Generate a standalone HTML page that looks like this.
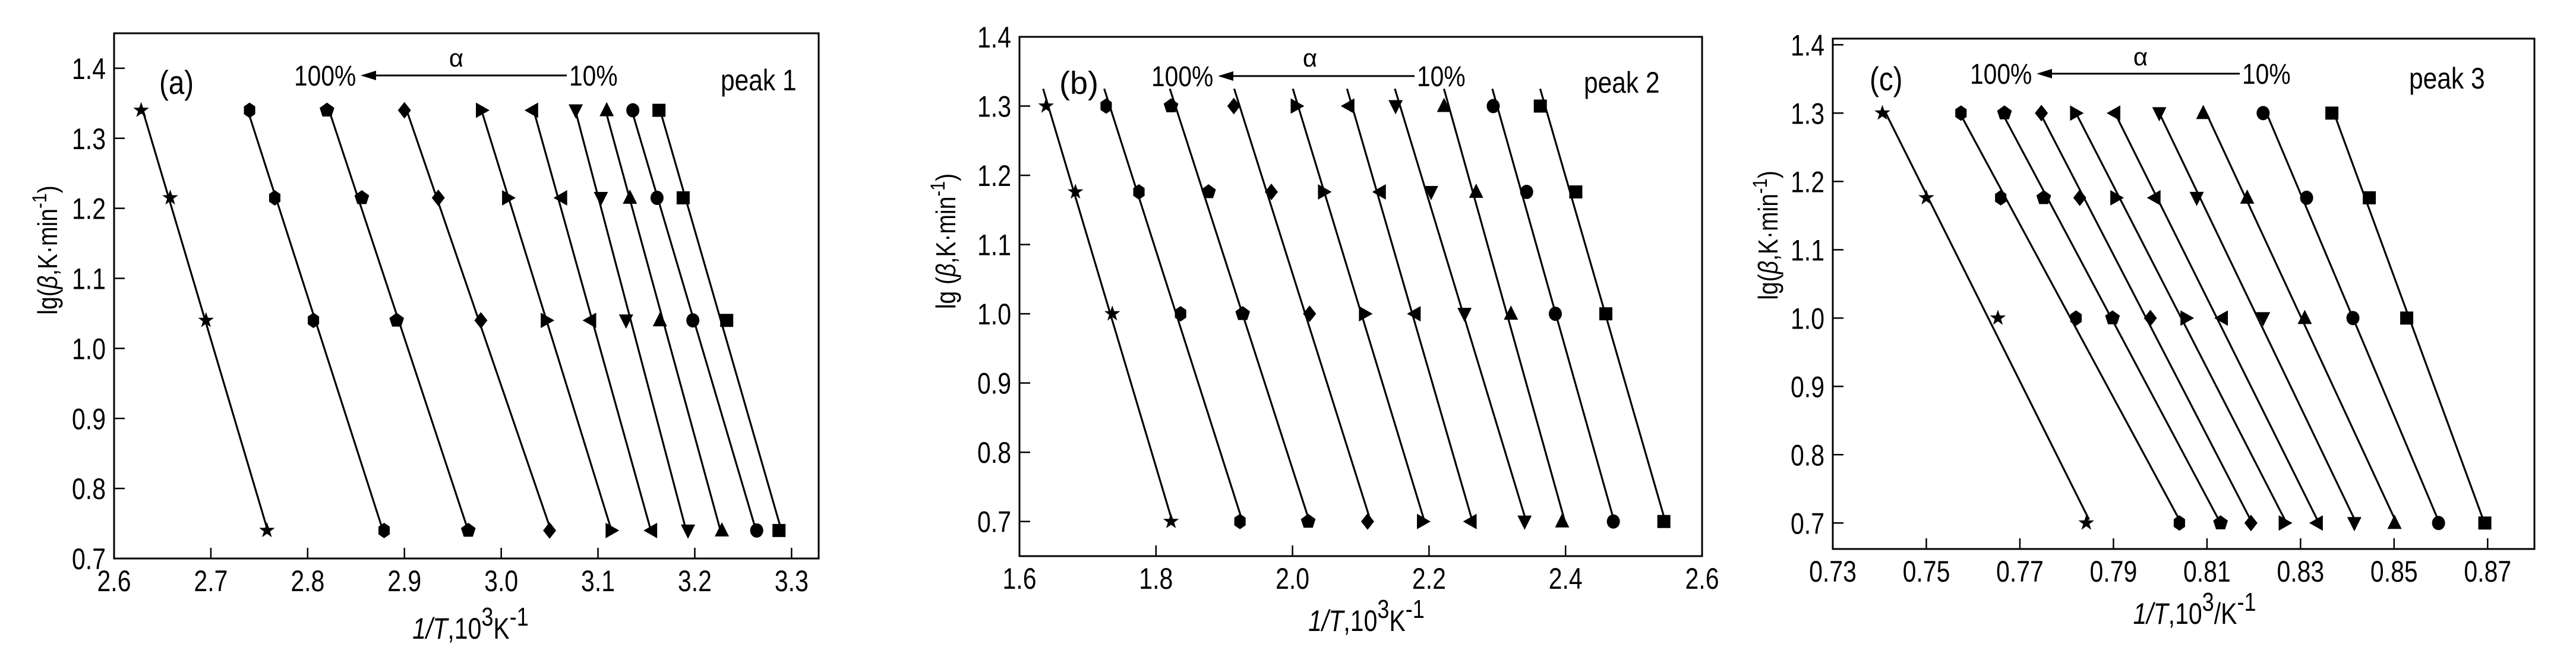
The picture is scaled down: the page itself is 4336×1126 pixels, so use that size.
<!DOCTYPE html>
<html><head><meta charset="utf-8"><style>
html,body{margin:0;padding:0;background:#fff;}
svg{display:block;}
text{font-family:"Liberation Sans",Arial,sans-serif;fill:#000;}
</style></head><body>
<svg id="fig" width="4336" height="1126" viewBox="0 0 4336 1126" xmlns="http://www.w3.org/2000/svg"></svg>
<script>
// ---- data ----
const markerOrder = ["star","hexagon","pentagon","diamond","triRight","triLeft","triDown","triUp","circle","square"];
const yTicks = [0.7,0.8,0.9,1.0,1.1,1.2,1.3,1.4];
const yTickLabels = ["0.7","0.8","0.9","1.0","1.1","1.2","1.3","1.4"];

const aRows = [1.34,1.215,1.04,0.74];
const aX = [
 [2.628,2.658,2.695,2.758],
 [2.740,2.766,2.806,2.879],
 [2.820,2.856,2.892,2.966],
 [2.900,2.935,2.979,3.050],
 [2.980,3.007,3.047,3.114],
 [3.032,3.062,3.092,3.155],
 [3.077,3.103,3.129,3.193],
 [3.109,3.133,3.164,3.228],
 [3.136,3.161,3.198,3.264],
 [3.163,3.188,3.233,3.287]];
const aXTicks = [2.6,2.7,2.8,2.9,3.0,3.1,3.2,3.3];
const aXTickLabels = ["2.6","2.7","2.8","2.9","3.0","3.1","3.2","3.3"];

const bRows = [1.30,1.176,1.00,0.70];
const bX = [
 [1.639,1.682,1.736,1.822],
 [1.727,1.775,1.836,1.923],
 [1.822,1.877,1.927,2.023],
 [1.914,1.969,2.025,2.110],
 [2.006,2.046,2.106,2.191],
 [2.082,2.128,2.179,2.261],
 [2.151,2.203,2.252,2.340],
 [2.222,2.269,2.320,2.395],
 [2.294,2.343,2.385,2.470],
 [2.363,2.415,2.459,2.544]];
const bXTicks = [1.6,1.8,2.0,2.2,2.4,2.6];
const bXTickLabels = ["1.6","1.8","2.0","2.2","2.4","2.6"];

const cRows = [1.30,1.176,1.00,0.70];
const cX = [
 [0.7406,0.7500,0.7653,0.7842],
 [0.7574,0.7659,0.7820,0.8041],
 [0.7667,0.7751,0.7898,0.8129],
 [0.7746,0.7828,0.7979,0.8194],
 [0.7820,0.7906,0.8056,0.8266],
 [0.7902,0.7988,0.8132,0.8335],
 [0.7998,0.8078,0.8220,0.8415],
 [0.8092,0.8186,0.8309,0.8501],
 [0.8220,0.8313,0.8412,0.8595],
 [0.8367,0.8447,0.8527,0.8694]];
const cXTicks = [0.73,0.75,0.77,0.79,0.81,0.83,0.85,0.87];
const cXTickLabels = ["0.73","0.75","0.77","0.79","0.81","0.83","0.85","0.87"];

// ---- layout ----
const panels = [
 {id:"a", rows:aRows, xs:aX, xt:aXTicks, xtl:aXTickLabels, x0:2.6, x1:3.328, y0:0.7, y1:1.45,
  L:192, R:1378, T:56, B:940, lineTop:1.34, lineBot:0.74,
  label:"(a)", labelX:268, labelY:158, serif:false, peak:"peak 1", peakX:1213, peakY:152,
  p100X:495, p10X:958, arrowY:127, alphaX:768, alphaY:112,
  yTitle:"lg(", yTitleX:80, yTitleY:421, xTitleX:792, xTitleY:1075, xUnit:"K"},
 {id:"b", rows:bRows, xs:bX, xt:bXTicks, xtl:bXTickLabels, x0:1.6, x1:2.6, y0:0.65, y1:1.4,
  L:1716, R:2865, T:62, B:936, lineTop:1.325, lineBot:0.70,
  label:"(b)", labelX:1783, labelY:158, serif:true, peak:"peak 2", peakX:2666, peakY:156,
  p100X:1938, p10X:2385, arrowY:128, alphaX:2205, alphaY:112,
  yTitle:"lg (", yTitleX:1592, yTitleY:406, xTitleX:2300, xTitleY:1062, xUnit:"K"},
 {id:"c", rows:cRows, xs:cX, xt:cXTicks, xtl:cXTickLabels, x0:0.73, x1:0.88, y0:0.662, y1:1.409,
  L:3085, R:4266, T:65, B:924, lineTop:1.30, lineBot:0.705,
  label:"(c)", labelX:3147, labelY:152, serif:false, peak:"peak 3", peakX:4055, peakY:149,
  p100X:3316, p10X:3774, arrowY:124, alphaX:3603, alphaY:110,
  yTitle:"lg(", yTitleX:2976, yTitleY:396, xTitleX:3694, xTitleY:1050, xUnit:"/K"}
];

const NS="http://www.w3.org/2000/svg";
const svg=document.getElementById("fig");
function mk(tag,attrs,parent){const e=document.createElementNS(NS,tag);for(const k in attrs)e.setAttribute(k,attrs[k]);(parent||svg).appendChild(e);return e;}
function txt(parent,x,y,s,size,anchor,sx,extra){
  const t=mk("text",{x:0,y:0,"font-size":size,"text-anchor":anchor||"start",transform:`translate(${x},${y}) scale(${sx||1},1)`},parent);
  t.textContent=s;
  if(extra)for(const k in extra)t.setAttribute(k,extra[k]);
  return t;
}
function marker(g,type,cx,cy){
  const r=12;let el;
  const poly=(pts)=>mk("polygon",{points:pts.map(p=>p.join(",")).join(" "),fill:"#000"},g);
  if(type==="circle"){el=mk("ellipse",{cx:cx,cy:cy,rx:11,ry:12,fill:"#000"},g);}
  else if(type==="square"){el=mk("rect",{x:cx-11,y:cy-11,width:22,height:22,fill:"#000"},g);}
  else if(type==="diamond"){el=poly([[cx,cy-14],[cx+11,cy],[cx,cy+14],[cx-11,cy]]);}
  else if(type==="triUp"){el=poly([[cx,cy-14],[cx+12,cy+10],[cx-12,cy+10]]);}
  else if(type==="triDown"){el=poly([[cx,cy+14],[cx+12,cy-10],[cx-12,cy-10]]);}
  else if(type==="triRight"){el=poly([[cx+13,cy],[cx-10,cy-13],[cx-10,cy+13]]);}
  else if(type==="triLeft"){el=poly([[cx-13,cy],[cx+10,cy-13],[cx+10,cy+13]]);}
  else if(type==="hexagon"){const p=[];for(let i=0;i<6;i++){const a=Math.PI/6+i*Math.PI/3;p.push([cx+11*Math.cos(a),cy+13*Math.sin(a)]);}el=poly(p);}
  else if(type==="pentagon"){const p=[];for(let i=0;i<5;i++){const a=-Math.PI/2+i*2*Math.PI/5;p.push([cx+13*Math.cos(a),cy+13*Math.sin(a)]);}el=poly(p);}
  else if(type==="star"){const p=[];for(let i=0;i<10;i++){const a=-Math.PI/2+i*Math.PI/5;const rr=i%2?5.5:14;p.push([cx+rr*Math.cos(a),cy+rr*Math.sin(a)]);}el=poly(p);}
  
  
}

panels.forEach(P=>{
  const g=mk("g",{});
  
  
  const sx=v=>P.L+(v-P.x0)/(P.x1-P.x0)*(P.R-P.L);
  const sy=v=>P.B-(v-P.y0)/(P.y1-P.y0)*(P.B-P.T);

  // series lines & markers
  P.xs.forEach((xs,si)=>{
    const sg=mk("g",{},g);
    
    
    // linear fit x = m*y + c
    const n=P.rows.length;let my=0,mx=0;
    for(let i=0;i<n;i++){my+=P.rows[i];mx+=xs[i];}
    my/=n;mx/=n;let num=0,den=0;
    for(let i=0;i<n;i++){num+=(P.rows[i]-my)*(xs[i]-mx);den+=(P.rows[i]-my)**2;}
    const m=num/den,c=mx-m*my;
    const ln=mk("line",{x1:sx(m*P.lineTop+c),y1:sy(P.lineTop),x2:sx(m*P.lineBot+c),y2:sy(P.lineBot),stroke:"#000","stroke-width":3.2},sg);
    
    
    xs.forEach((xv,i)=>marker(sg,markerOrder[si],sx(xv),sy(P.rows[i])));
  });

  // frame
  const fr=mk("rect",{x:P.L,y:P.T,width:P.R-P.L,height:P.B-P.T,fill:"none",stroke:"#000","stroke-width":3},g);
  
  

  // x ticks
  P.xt.forEach((v,i)=>{
    const X=sx(v);
    if(i>0 && Math.abs(X-P.L)>2) mk("line",{x1:X,y1:P.B,x2:X,y2:P.B-18,stroke:"#000","stroke-width":2.5},g);
    const t=txt(g,X,P.B+55,P.xtl[i],50,"middle",0.82);
    
    
  });
  // y ticks
  yTicks.forEach((v,i)=>{
    if(v<P.y0-1e-9||v>P.y1+1e-9)return;
    const Y=sy(v);
    if(Math.abs(Y-P.B)>2 && Math.abs(Y-P.T)>2) mk("line",{x1:P.L,y1:Y,x2:P.L+18,y2:Y,stroke:"#000","stroke-width":2.5},g);
    const t=txt(g,P.L-14,Y+18,yTickLabels[i],50,"end",0.82);
    
    
  });

  // y title
  const yt=mk("text",{x:0,y:0,"font-size":46,"text-anchor":"middle",transform:`translate(${P.yTitleX+16},${P.yTitleY}) rotate(-90) scale(0.85,1)`},g);
  
  
  yt.innerHTML=P.yTitle+'<tspan font-style="italic">β</tspan>,K·min<tspan dy="-18" font-size="34">-1</tspan><tspan dy="18">)</tspan>';

  // x title
  const xtt=mk("text",{x:0,y:0,"font-size":50,"text-anchor":"middle",transform:`translate(${P.xTitleX},${P.xTitleY}) scale(0.82,1)`},g);
  
  
  xtt.innerHTML='<tspan font-style="italic">1/T</tspan>,10<tspan dy="-22" font-size="44">3</tspan><tspan dy="22">'+P.xUnit+'</tspan><tspan dy="-22" font-size="44">-1</tspan>';

  // panel label
  const lb=txt(g,P.labelX,P.labelY,P.label,P.serif?54:56,"start",P.serif?1:0.85);
  if(P.serif)lb.setAttribute("font-family",'"Liberation Serif",serif');
  
  
  const pk=txt(g,P.peakX,P.peakY,P.peak,50,"start",0.85);
  
  

  // alpha arrow annotation
  const t100=txt(g,P.p100X,P.arrowY+17,"100%",48,"start",0.85);
  
  
  const t10=txt(g,P.p10X,P.arrowY+17,"10%",48,"start",0.85);
  
  
  const ax0=P.p100X+112, ax1=P.p10X-4;
  const al=mk("line",{x1:ax0+20,y1:P.arrowY,x2:ax1,y2:P.arrowY,stroke:"#000","stroke-width":3},g);
  
  
  mk("polygon",{points:`${ax0},${P.arrowY} ${ax0+26},${P.arrowY-8} ${ax0+26},${P.arrowY+8}`,fill:"#000"},g);
  const alp=txt(g,P.alphaX,P.alphaY,"α",42,"middle",1);
  
  
});
</script>
</body></html>
